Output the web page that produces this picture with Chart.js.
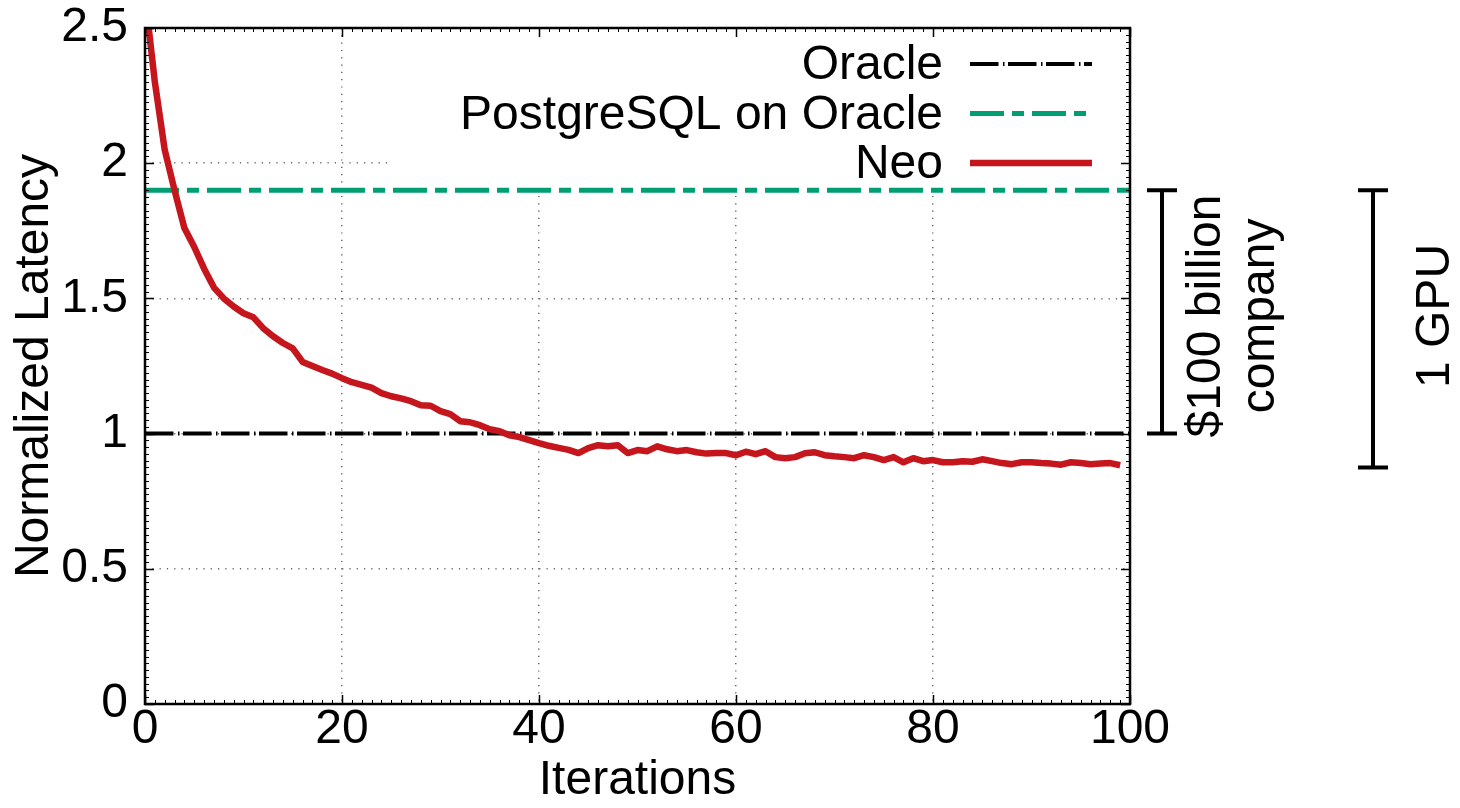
<!DOCTYPE html>
<html>
<head>
<meta charset="utf-8">
<script src="https://cdn.jsdelivr.net/npm/chart.js@4/dist/chart.umd.min.js"></script>
<style>
  html, body { margin: 0; padding: 0; background: #fff; }
  #wrap { width: 1460px; height: 808px; }
</style>
</head>
<body>
<div id="wrap"><canvas id="latencyChart" width="1460" height="808"></canvas></div>
<script>
// values
const xTickLabels = ['0', '20', '40', '60', '80', '100'];
const yTickLabels = ['0', '0.5', '1', '1.5', '2', '2.5'];
const seriesLabels = ['Oracle', 'PostgreSQL on Oracle', 'Neo'];
const baselineRange = [0, 100];
const oracleLatency = [1.0, 1.0];
const postgresLatency = [1.9, 1.9];
const neoLatency = [
  2.62, 2.30, 2.05, 1.90, 1.76, 1.69, 1.61, 1.54, 1.50, 1.47,
  1.445, 1.43, 1.39, 1.36, 1.335, 1.315, 1.265, 1.25, 1.235, 1.222,
  1.205, 1.19, 1.18, 1.17, 1.15, 1.138, 1.13, 1.12, 1.105, 1.103,
  1.083, 1.072, 1.046, 1.042, 1.031, 1.016, 1.009, 0.994, 0.987, 0.976,
  0.965, 0.955, 0.947, 0.94, 0.928, 0.946, 0.957, 0.953, 0.957, 0.928,
  0.939, 0.935, 0.953, 0.942, 0.935, 0.939, 0.931, 0.926, 0.928, 0.928,
  0.92, 0.933, 0.924, 0.935, 0.913, 0.909, 0.913, 0.927, 0.931, 0.92,
  0.916, 0.913, 0.909, 0.92, 0.913, 0.902, 0.913, 0.894, 0.909, 0.898,
  0.902, 0.894, 0.894, 0.898, 0.896, 0.905, 0.898, 0.891, 0.887, 0.894,
  0.894, 0.891, 0.889, 0.885, 0.894, 0.891, 0.887, 0.889, 0.891, 0.883
];
// side brackets
const bracketLabels = [['$100 billion', 'company'], ['1 GPU']];
const bracketTop = [1.9, 1.9];
const bracketBottom = [1.0, 0.875];

const FONT = '"Liberation Sans", Arial, sans-serif';

const toPoints = (xs, ys) => xs.map((x, i) => ({ x: x, y: ys[i] }));

// no extra room for half labels, the plot area is fixed
const noPadding = (scale) => {
  scale.paddingTop = 0;
  scale.paddingBottom = 0;
  scale.paddingLeft = 0;
  scale.paddingRight = 0;
};

// opaque key box + key entries (gnuplot style, text left of sample)
const keyPlugin = {
  id: 'keyBox',
  beforeDatasetsDraw(chart) {
    const { ctx, chartArea } = chart;
    ctx.save();
    ctx.fillStyle = '#fff';
    ctx.fillRect(chartArea.left + 248, chartArea.top + 1, chartArea.right - chartArea.left - 249, 156);
    ctx.restore();
  },
  afterDatasetsDraw(chart) {
    const { ctx, chartArea } = chart;
    ctx.save();
    ctx.font = '48px ' + FONT;
    ctx.textAlign = 'right';
    ctx.textBaseline = 'middle';
    chart.data.datasets.forEach((ds, i) => {
      const y = chartArea.top + 36 + i * 49.5;
      ctx.fillStyle = '#000';
      ctx.fillText(ds.label, chartArea.right - 187, y + 2);
      ctx.beginPath();
      ctx.strokeStyle = ds.borderColor;
      ctx.lineWidth = ds.borderWidth;
      ctx.setLineDash(ds.borderDash || []);
      ctx.moveTo(chartArea.right - 160, y);
      ctx.lineTo(chartArea.right - 38, y);
      ctx.stroke();
    });
    ctx.restore();
  }
};

// inward major/minor ticks on all four sides, and the frame
const frameTicksPlugin = {
  id: 'frameTicks',
  afterDatasetsDraw(chart) {
    const { ctx, chartArea, scales } = chart;
    const { left, right, top, bottom } = chartArea;
    ctx.save();
    ctx.strokeStyle = '#000';
    ctx.setLineDash([]);
    for (let v = 0; v <= 100; v += 1) {
      const px = Math.round(scales.x.getPixelForValue(v)) + 0.5;
      const major = v % 20 === 0;
      const len = major ? 9 : 4;
      ctx.lineWidth = major ? 1.5 : 1;
      ctx.beginPath();
      ctx.moveTo(px, bottom); ctx.lineTo(px, bottom - len);
      ctx.moveTo(px, top); ctx.lineTo(px, top + len);
      ctx.stroke();
    }
    for (let k = 0; k <= 100; k++) {
      const v = k * 0.025;
      const py = Math.round(scales.y.getPixelForValue(v)) + 0.5;
      const major = k % 20 === 0;
      const len = major ? 9 : 4;
      ctx.lineWidth = major ? 1.5 : 1;
      ctx.beginPath();
      ctx.moveTo(left, py); ctx.lineTo(left + len, py);
      ctx.moveTo(right, py); ctx.lineTo(right - len, py);
      ctx.stroke();
    }
    ctx.lineWidth = 2.5;
    ctx.strokeRect(left, top, right - left, bottom - top);
    ctx.restore();
  }
};

// "$100 billion company" and "1 GPU" brackets right of the plot
const bracketPlugin = {
  id: 'brackets',
  afterDraw(chart) {
    const { ctx, chartArea, scales } = chart;
    const xs = [chartArea.right + 32, chartArea.right + 243];
    const textX = [chartArea.right + 104, chartArea.right + 306];
    ctx.save();
    ctx.strokeStyle = '#000';
    ctx.lineWidth = 4;
    bracketLabels.forEach((lines, i) => {
      const y1 = scales.y.getPixelForValue(bracketTop[i]);
      const y2 = scales.y.getPixelForValue(bracketBottom[i]);
      ctx.beginPath();
      ctx.moveTo(xs[i], y1); ctx.lineTo(xs[i], y2);
      ctx.moveTo(xs[i] - 15, y1); ctx.lineTo(xs[i] + 15, y1);
      ctx.moveTo(xs[i] - 15, y2); ctx.lineTo(xs[i] + 15, y2);
      ctx.stroke();

      ctx.save();
      ctx.translate(textX[i], scales.y.getPixelForValue(1.435));
      ctx.rotate(-Math.PI / 2);
      ctx.font = '48px ' + FONT;
      ctx.fillStyle = '#000';
      ctx.textAlign = 'center';
      ctx.textBaseline = 'middle';
      lines.forEach((t, j) => {
        ctx.fillText(t, 0, (j - (lines.length - 1) / 2) * 54);
      });
      ctx.restore();
    });
    ctx.restore();
  }
};

const ctx = document.getElementById('latencyChart').getContext('2d');
new Chart(ctx, {
  type: 'line',
  data: {
    datasets: [
      {
        label: seriesLabels[0],
        data: toPoints(baselineRange, oracleLatency),
        borderColor: '#000000',
        borderWidth: 4,
        borderDash: [28.5, 4.5, 1.5, 3.5],
        pointRadius: 0,
        order: 1,
      },
      {
        label: seriesLabels[1],
        data: toPoints(baselineRange, postgresLatency),
        borderColor: '#009e73',
        borderWidth: 5,
        borderDash: [34, 8, 12, 8],
        pointRadius: 0,
        order: 2,
      },
      {
        label: seriesLabels[2],
        data: neoLatency.map((v, i) => ({ x: i, y: v })),
        borderColor: '#c4161c',
        borderWidth: 6.5,
        borderJoinStyle: 'round',
        pointRadius: 0,
        tension: 0,
        order: 0,
      },
    ],
  },
  options: {
    responsive: false,
    animation: false,
    devicePixelRatio: 1,
    clip: 0,
    layout: { padding: { left: 0, right: 330, top: 28, bottom: 0 } },
    plugins: {
      legend: { display: false },
      tooltip: { enabled: false },
    },
    scales: {
      x: {
        type: 'linear',
        min: 0,
        max: 100,
        afterFit: (scale) => { scale.height = 104; noPadding(scale); },
        ticks: {
          stepSize: 20,
          autoSkip: false,
          maxRotation: 0,
          padding: 2,
          color: '#000',
          font: { family: FONT, size: 48, lineHeight: 1 },
          callback: (v, i) => xTickLabels[i],
        },
        grid: { color: '#666', lineWidth: 1.5, drawTicks: false },
        border: { display: false, dash: [1.2, 6.1] },
        title: {
          display: true,
          text: 'Iterations',
          color: '#000',
          font: { family: FONT, size: 48, lineHeight: 1 },
          padding: { top: 0, bottom: 3 },
        },
      },
      y: {
        min: 0,
        max: 2.5,
        afterFit: (scale) => { scale.width = 145; noPadding(scale); },
        ticks: {
          stepSize: 0.5,
          padding: 17,
          color: '#000',
          font: { family: FONT, size: 48, lineHeight: 1 },
          callback: (v, i) => yTickLabels[i],
        },
        grid: { color: '#666', lineWidth: 1.5, drawTicks: false },
        border: { display: false, dash: [1.2, 6.1] },
        title: {
          display: true,
          text: 'Normalized Latency',
          color: '#000',
          font: { family: FONT, size: 48, lineHeight: 1 },
          padding: { top: 11, bottom: 0 },
        },
      },
    },
  },
  plugins: [keyPlugin, frameTicksPlugin, bracketPlugin],
});
</script>
</body>
</html>
